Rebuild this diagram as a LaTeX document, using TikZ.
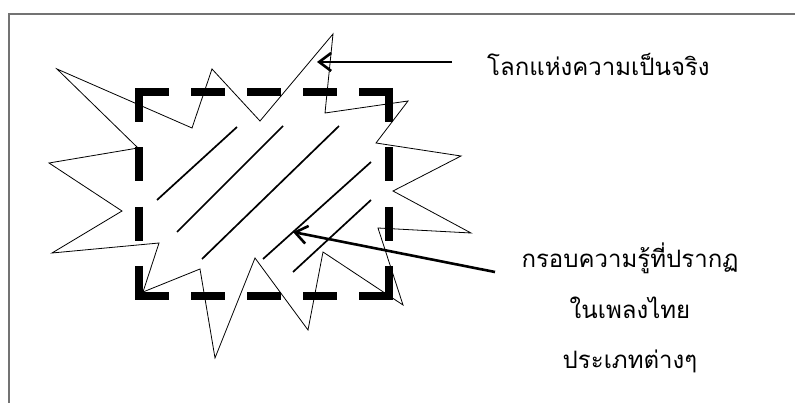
\documentclass[tikz,border=0pt]{standalone}
\usepackage{fontspec}
\usepackage{tikz}
\usetikzlibrary{arrows.meta,positioning,calc}
\newfontfamily\thaifont[Script=Thai]{Loma}

\begin{document}
\begin{tikzpicture}[
x=1pt,y=-1pt,
frame/.style={draw=black!55,line width=1.3pt},
burst/.style={draw=black,line width=0.8pt,line join=miter},
hatch/.style={draw=black,line width=1.7pt},
hdash/.style={line width=8pt,dash pattern=on 33.6pt off 22.5pt},
vdash/.style={line width=8pt,dash pattern=on 34pt off 25.3pt},
arr/.style={-{Straight Barb[length=12pt,width=18pt,line width=2.6pt]},line width=2.6pt},
lab/.style={inner sep=0pt,text height=17pt,text depth=9pt,font=\thaifont\fontsize{24}{28}\selectfont}
]
\useasboundingbox (0,0) rectangle (795,403);
% frame, only top and left show
\draw[frame] (9,420) -- (9,14) -- (810,14);

% the burst
\draw[burst] (57,69) -- (192,128) -- (212,69) -- (260,121) -- (333,34)
  -- (325,113) -- (408,101) -- (376,143) -- (461,156) -- (393,191)
  -- (471,233) -- (378,228) -- (403,305) -- (323,252) -- (308,330)
  -- (255,258) -- (215,358) -- (200,269) -- (143,292) -- (159,243)
  -- (52,253) -- (122,211) -- (49,163) -- (138,148) -- cycle;

% dashed box
\coordinate (tl) at (139,92);
\coordinate (tr) at (389,92);
\coordinate (br) at (389,296);
\coordinate (bl) at (139,296);
\draw[hdash,shorten <=-4pt,shorten >=-4pt] (tl) -- (tr);
\draw[hdash,shorten <=-4pt,shorten >=-4pt] (bl) -- (br);
\draw[vdash,shorten <=-4pt,shorten >=-4pt] (tl) -- (bl);
\draw[vdash,shorten <=-4pt,shorten >=-4pt] (tr) -- (br);

% hatching
\draw[hatch] (237,127) -- (157,200);
\draw[hatch] (283,126) -- (177,232);
\draw[hatch] (339,126) -- (202,259);
\draw[hatch] (371,162) -- (263,259);
\draw[hatch] (371,200) -- (293,272);

% labels
\node[lab,anchor=west] (real) at (487,72) {โลกแห่งความเป็นจริง};
\node[lab] (frm1) at (630,264) {กรอบความรู้ที่ปรากฏ};
\node[lab] (frm2) [below=24pt of frm1] {ในเพลงไทย};
\node[lab] (frm3) [below=24pt of frm2] {ประเภทต่างๆ};

\coordinate (realtail) at (452,62);
\coordinate (realtip) at (317,62);
\coordinate (frmtail) at (495,272);
\coordinate (frmtip) at (293,232);
\draw[arr] (realtail) -- (realtip);
\draw[arr] (frmtail) -- (frmtip);
\end{tikzpicture}
\end{document}
